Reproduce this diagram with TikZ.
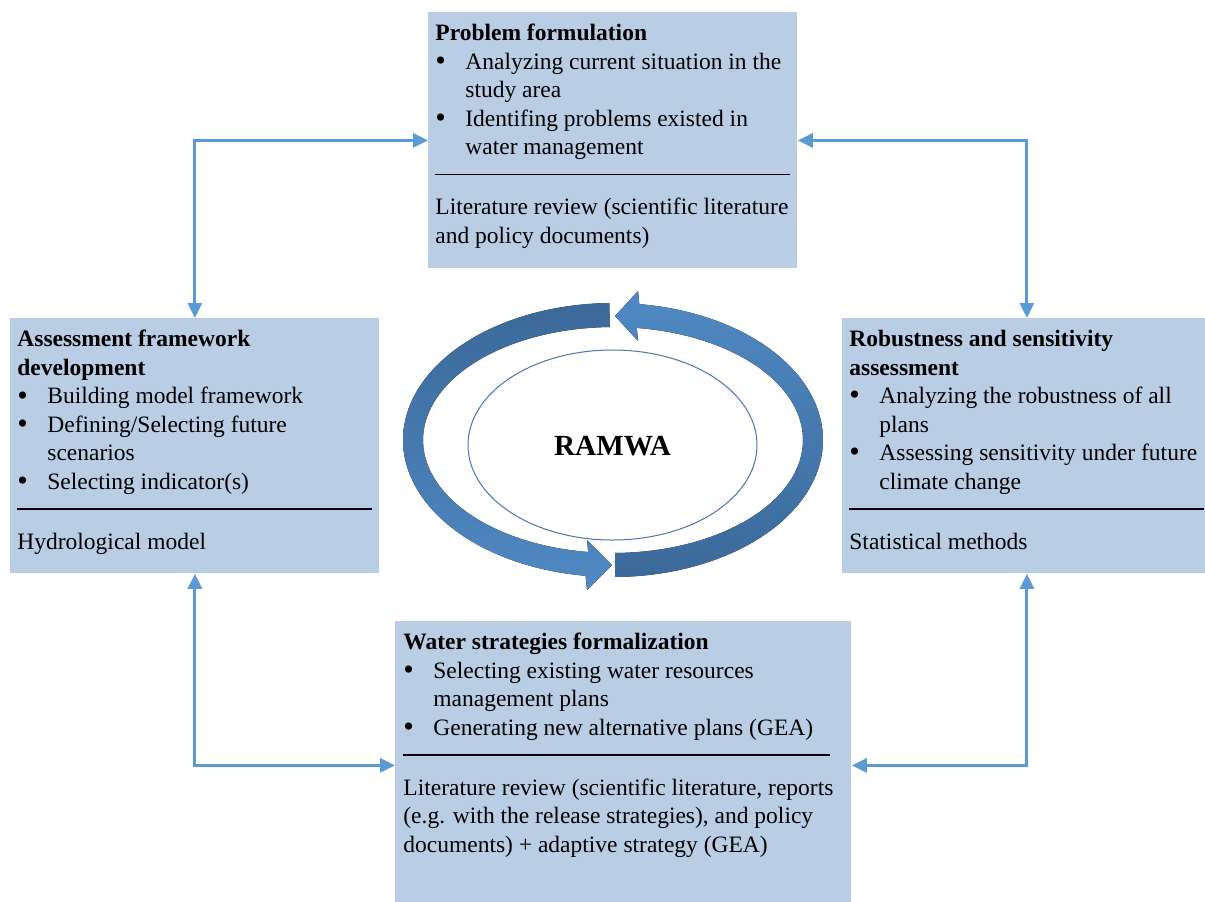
\documentclass[tikz,border=0pt]{standalone}
\usepackage{fontspec}
\setmainfont{Liberation Serif}
\usepackage{enumitem}
\usetikzlibrary{arrows.meta,shapes.geometric}

\definecolor{stagefill}{HTML}{B9CDE5}
\definecolor{linkblue}{HTML}{5B9BD5}
\definecolor{ringdark}{HTML}{3B6999}
\definecolor{ringlight}{HTML}{5089C3}
\definecolor{ovalline}{HTML}{4A76A8}

\setlist[itemize]{label=\raisebox{-0.6pt}{\fontsize{15pt}{14.25pt}\selectfont\textbullet}, nosep, leftmargin=15pt, labelindent=0pt, labelwidth=15pt, labelsep=0pt, align=left}
\hyphenpenalty=10000
\newcommand{\divider}[1][\linewidth]{\par\noindent\rule[4pt]{#1}{0.8pt}\par\vspace{1.5pt}}

\tikzset{
  stage/.style={fill=stagefill, anchor=north west, inner xsep=3.5pt, inner ysep=6pt,
    font=\fontsize{11.75pt}{14.25pt}\selectfont},
  link/.style={draw=linkblue, line width=1.5pt,
    {Triangle[length=7.5pt,width=7pt]}-{Triangle[length=7.5pt,width=7pt]}},
}

\begin{document}
\begin{tikzpicture}[x=0.5pt, y=-0.5pt]
\useasboundingbox (0,0) rectangle (1205,901);
\clip (0,0) rectangle (1205,901);

% stages
\node[stage] (problem) at (428,12) {\begin{minipage}[t][116pt][t]{177.5pt}\raggedright
\textbf{Problem formulation}
\begin{itemize}
\item Analyzing current situation in the\newline study area
\item Identifing problems existed in\newline water management
\end{itemize}
\divider
Literature review (scientific literature\newline and policy documents)
\end{minipage}};

\node[stage] (assess) at (10,318) {\begin{minipage}[t][115.5pt][t]{177.5pt}\raggedright
\textbf{Assessment framework\newline development}
\begin{itemize}
\item Building model framework
\item Defining/Selecting future\newline scenarios
\item Selecting indicator(s)
\end{itemize}
\divider
Hydrological model
\end{minipage}};

\node[stage] (robust) at (842,318) {\begin{minipage}[t][115.5pt][t]{177.5pt}\raggedright
\textbf{Robustness and sensitivity\newline assessment}
\begin{itemize}
\item Analyzing the robustness of all\newline plans
\item Assessing sensitivity under future\newline climate change
\end{itemize}
\divider
Statistical methods
\end{minipage}};

\node[stage, inner xsep=4pt] (water) at (395,621) {\begin{minipage}[t][132pt][t]{220pt}\raggedright
\textbf{Water strategies formalization}
\begin{itemize}
\item Selecting existing water resources\newline management plans
\item Generating new alternative plans (GEA)
\end{itemize}
\divider[213.5pt]
Literature review (scientific literature, reports\newline (e.g. with the release strategies), and policy\newline documents) + adaptive strategy (GEA)
\end{minipage}};

% cycle arrows
\fill[top color=ringdark, bottom color=ringlight]
  plot[domain=269:97.5, samples=60] ({613+210*cos(\x)},{440+137*sin(\x)})
  -- (587,590) -- (612,565) -- (587,540)
  -- plot[domain=97.5:269, samples=60] ({613+190*cos(\x)},{440+113*sin(\x)}) -- cycle;
\fill[top color=ringlight, bottom color=ringdark]
  plot[domain=89.4:-82.8, samples=60] ({613+210*cos(\x)},{440+137*sin(\x)})
  -- (638,291) -- (615,316) -- (638,341)
  -- plot[domain=-82.8:89.4, samples=60] ({613+190*cos(\x)},{440+113*sin(\x)}) -- cycle;

\node[ellipse, draw=ovalline, fill=white, line width=0.5pt, minimum width=144.5pt, minimum height=95pt,
  inner sep=0pt, text height=11pt, font=\bfseries\fontsize{14.6pt}{17pt}\selectfont] (ramwa) at (612.5,445) {RAMWA};

% links
\draw[link] (assess.north) |- (problem.west);
\draw[link] (robust.north) |- (problem.east);
\draw[link] (assess.south) |- (water.west);
\draw[link] (robust.south) |- (water.east);
\end{tikzpicture}
\end{document}
